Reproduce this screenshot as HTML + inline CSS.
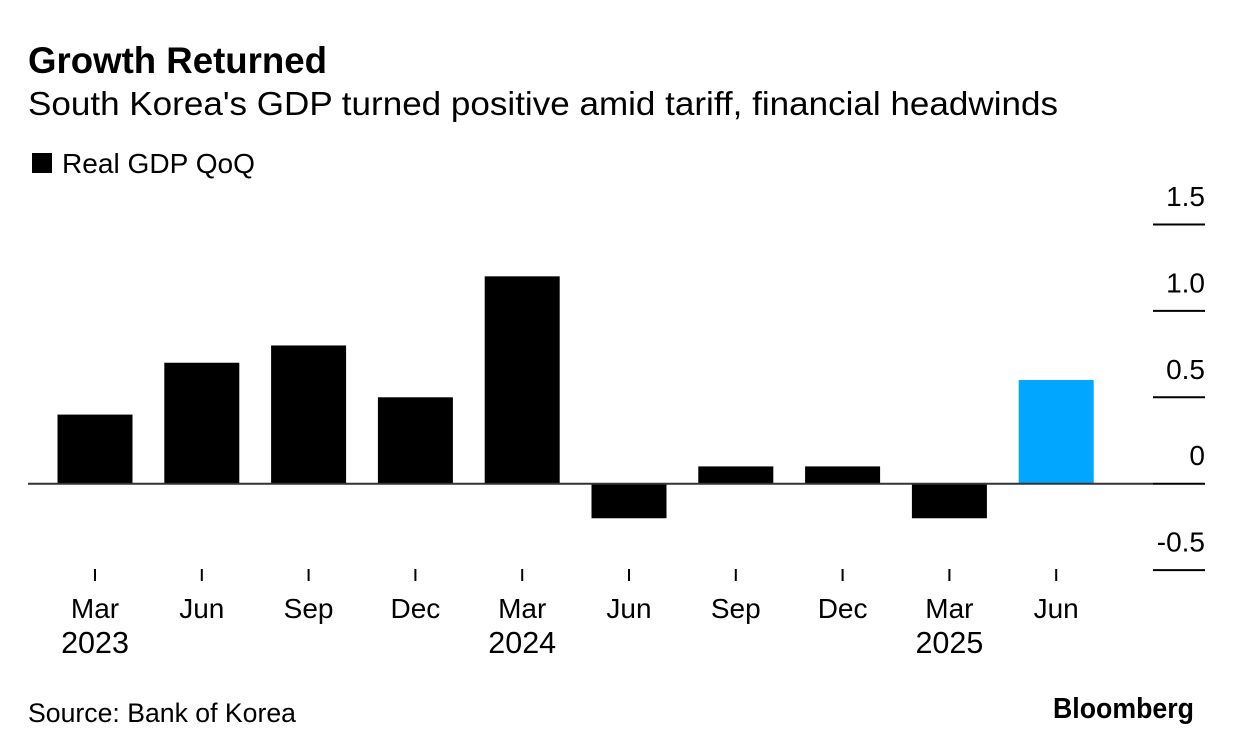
<!DOCTYPE html>
<html>
<head>
<meta charset="utf-8">
<style>
html,body{margin:0;padding:0;background:#fff;width:1233px;height:754px;overflow:hidden}
svg{display:block}
text{font-family:"Liberation Sans",sans-serif;fill:#000}
</style>
</head>
<body>
<svg id="chart" width="1233" height="754" viewBox="0 0 1233 754" xmlns="http://www.w3.org/2000/svg">
<text x="28" y="73" font-size="37" font-weight="700" textLength="299" lengthAdjust="spacingAndGlyphs">Growth Returned</text>
<text x="28" y="115" font-size="33.5" textLength="1030" lengthAdjust="spacingAndGlyphs">South Korea's GDP turned positive amid tariff, financial headwinds</text>
<rect x="32" y="153" width="20" height="20" fill="#000"/>
<text x="62" y="173" font-size="28" textLength="193" lengthAdjust="spacingAndGlyphs">Real GDP QoQ</text>
<text x="28" y="722" font-size="27" textLength="268" lengthAdjust="spacingAndGlyphs">Source: Bank of Korea</text>
<text x="1053" y="718" font-size="29" font-weight="700" textLength="141" lengthAdjust="spacingAndGlyphs">Bloomberg</text>
<g id="plot"></g>
</svg>
<script>
var months = ["Mar","Jun","Sep","Dec","Mar","Jun","Sep","Dec","Mar","Jun"];
var years = ["2023","","","","2024","","","","2025",""];
var gdpValues = [0.4,0.7,0.8,0.5,1.2,-0.2,0.1,0.1,-0.2,0.6];
var highlightIndex = 9;
var yTicks = [1.5,1.0,0.5,0,-0.5];
var yTickLabels = ["1.5","1.0","0.5","0","-0.5"];

var NS = "http://www.w3.org/2000/svg";
var plot = document.getElementById("plot");
function yScale(v){ return 483.7 - v * 172.8; }
function xScale(i){ return 95 + i * 106.8; }
function make(tag, attrs, text){
  var el = document.createElementNS(NS, tag);
  for (var k in attrs) el.setAttribute(k, attrs[k]);
  if (text !== undefined) el.textContent = text;
  plot.appendChild(el);
  return el;
}
gdpValues.forEach(function(v,i){
  var top = Math.min(yScale(v), yScale(0));
  var h = Math.abs(yScale(v) - yScale(0));
  var bar = make("rect", {x:xScale(i)-37.5, y:top, width:75, height:h, fill:i===highlightIndex?"#00a6ff":"#000"});
  
  
});
var zero = make("line", {x1:28, x2:1153, y1:yScale(0), y2:yScale(0), stroke:"#333", "stroke-width":2});


yTicks.forEach(function(t,i){
  var line = make("line", {x1:1153, x2:1205, y1:yScale(t), y2:yScale(t), stroke:"#000", "stroke-width":2});
  
  
  var label = make("text", {x:1205, y:yScale(t)-18.5, "font-size":28, "text-anchor":"end"}, yTickLabels[i]);
  
  
});
months.forEach(function(m,i){
  var tick = make("line", {x1:xScale(i), x2:xScale(i), y1:569, y2:581, stroke:"#000", "stroke-width":2});
  
  
  var label = make("text", {x:xScale(i), y:618, "font-size":28, "text-anchor":"middle"}, m);
  
  
  if (years[i]) {
    var yearLabel = make("text", {x:xScale(i), y:653, "font-size":30.5, "text-anchor":"middle"}, years[i]);
    
    
  }
});
</script>
</body>
</html>
